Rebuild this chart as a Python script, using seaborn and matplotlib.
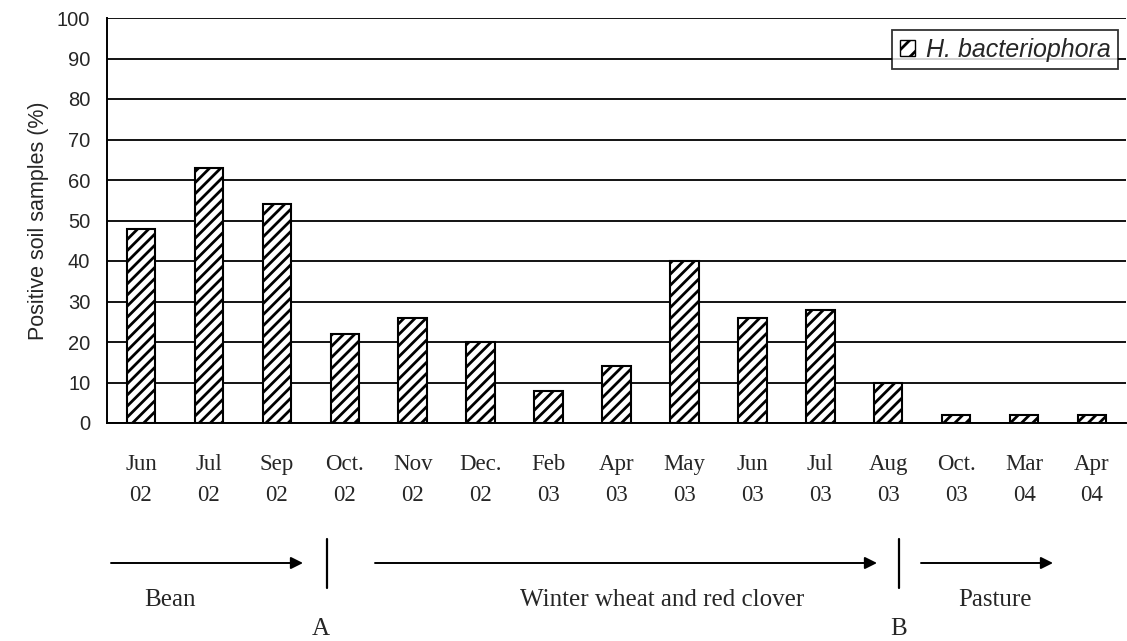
import matplotlib
matplotlib.use('Agg')
import matplotlib.pyplot as plt
import seaborn as sns
from matplotlib.patches import Patch, FancyArrowPatch
from matplotlib.lines import Line2D
from matplotlib.ticker import FixedLocator

# 数据
months = ['Jun\n02', 'Jul\n02', 'Sep\n02', 'Oct.\n02', 'Nov\n02', 'Dec.\n02', 'Feb\n03', 'Apr\n03',
          'May\n03', 'Jun\n03', 'Jul\n03', 'Aug\n03', 'Oct.\n03', 'Mar\n04', 'Apr\n04']
positive = [48, 63, 54, 22, 26, 20, 8, 14, 40, 26, 28, 10, 2, 2, 2]
species = 'H. bacteriophora'

# 作物阶段
stages = ['Bean', 'Winter wheat and red clover', 'Pasture']
switches = ['A', 'B']

sns.set_style('white')
plt.rcParams['font.family'] = ['Liberation Sans', 'DejaVu Sans']
plt.rcParams['hatch.linewidth'] = 2.0

fig = plt.figure(figsize=(11.27, 6.41), dpi=100)
ax = fig.add_axes([107 / 1127, 1 - 423 / 641, 1019 / 1127, 405 / 641])

sns.barplot(x=months, y=positive, color='white', edgecolor='black', linewidth=1.5,
            width=0.42, ax=ax, saturation=1)
for bar in ax.patches:
    bar.set_hatch('///')

ax.set_xlim(-0.5, len(months) - 0.5)
ax.set_ylim(0, 100)
ax.set_yticks(range(0, 101, 10))
ax.yaxis.grid(True, color='black', linewidth=1.3)
ax.set_axisbelow(True)
for s in ['top', 'right']:
    ax.spines[s].set_visible(False)
for s in ['left', 'bottom']:
    ax.spines[s].set_color('black')
    ax.spines[s].set_linewidth(1.4)

ax.tick_params(axis='y', direction='out', length=5, width=1.3, color='black', labelsize=14.5, pad=7)
ax.tick_params(axis='x', which='major', length=0, pad=22)
ax.xaxis.set_minor_locator(FixedLocator([i - 0.5 for i in range(len(months) + 1)]))
ax.tick_params(axis='x', which='minor', direction='out', length=7, width=1.3, color='black')
for lab in ax.get_xticklabels():
    lab.set_family('Liberation Serif')
    lab.set_fontsize(16.5)
    lab.set_linespacing(1.65)

ax.set_ylabel('Positive soil samples (%)', fontsize=15.5, labelpad=6)

leg = ax.legend(handles=[Patch(facecolor='white', edgecolor='black', hatch='//', label=species)],
                loc='upper right', bbox_to_anchor=(1118 / 1127, 1 - 30 / 641),
                bbox_transform=fig.transFigure, frameon=True, fancybox=False,
                handlelength=0.6, handleheight=0.6, handletextpad=0.45, borderpad=0.3,
                borderaxespad=0, prop={'style': 'italic', 'size': 18})
leg.get_frame().set_edgecolor('black')
leg.get_frame().set_linewidth(1.3)


# 下方的作物阶段注释
def px(x, y):
    return (x / 1127, 1 - y / 641)


arrow_y = 563
for x0, x1 in [(111, 303), (375, 877), (921, 1053)]:
    fig.add_artist(FancyArrowPatch(px(x0, arrow_y), px(x1, arrow_y),
                   transform=fig.transFigure, arrowstyle='-|>', mutation_scale=18,
                   color='black', linewidth=1.4, shrinkA=0, shrinkB=0))
for xv in [327, 899]:
    fig.add_artist(Line2D([xv / 1127, xv / 1127], [1 - 539 / 641, 1 - 588 / 641],
                          color='black', linewidth=1.6))

serif = {'family': 'Liberation Serif', 'size': 18}
for txt, x in zip(stages, [170, 662, 995]):
    fig.text(*px(x, 600), txt, ha='center', va='center', fontdict=serif)
for txt, x in zip(switches, [321, 899]):
    fig.text(*px(x, 629), txt, ha='center', va='center', fontdict=serif)

fig.savefig('out.png', dpi=100)
